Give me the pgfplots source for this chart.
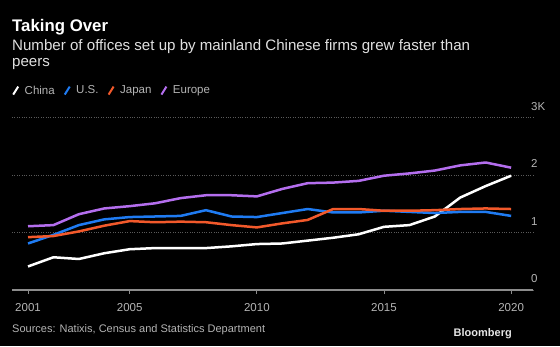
\documentclass[border=0pt]{standalone}
\usepackage{fontspec}
\setmainfont{Liberation Sans}
\usepackage{pgfplots}
\usepackage{pgfplotstable}
\pgfplotsset{compat=1.18}
\definecolor{cblue}{HTML}{1F7BF2}
\definecolor{corange}{HTML}{F2592B}
\definecolor{cpurple}{HTML}{B46EEE}
\definecolor{gridc}{HTML}{5A5A5A}
\definecolor{axisc}{HTML}{8C8C8C}
\definecolor{labc}{HTML}{B4B4B4}
\pgfplotstableread{
year china us japan europe
2001 0.41 0.81 0.92 1.11
2002 0.57 0.96 0.94 1.13
2003 0.54 1.13 1.02 1.32
2004 0.64 1.23 1.12 1.42
2005 0.71 1.27 1.20 1.46
2006 0.73 1.28 1.18 1.51
2007 0.73 1.29 1.19 1.60
2008 0.73 1.39 1.18 1.65
2009 0.76 1.28 1.13 1.65
2010 0.80 1.27 1.09 1.63
2011 0.81 1.34 1.16 1.76
2012 0.86 1.41 1.22 1.86
2013 0.91 1.35 1.41 1.87
2014 0.97 1.35 1.41 1.90
2015 1.10 1.38 1.38 1.99
2016 1.13 1.36 1.38 2.03
2017 1.28 1.34 1.39 2.08
2018 1.61 1.36 1.41 2.17
2019 1.81 1.36 1.42 2.22
2020 1.99 1.29 1.41 2.13
}\datatable
\begin{document}
\begin{tikzpicture}
\fill[black] (0pt,0pt) rectangle (560pt,-346pt);
\useasboundingbox (0pt,0pt) rectangle (560pt,-346pt);
\node[anchor=base west,inner sep=0,text=white,font=\bfseries\fontsize{16.8}{18}\selectfont] at (12pt,-31.5pt) {Taking Over};
\node[anchor=base west,inner sep=0,text=white!88!black,font=\fontsize{15.1}{16}\selectfont] at (12pt,-50.5pt) {Number of offices set up by mainland Chinese firms grew faster than};
\node[anchor=base west,inner sep=0,text=white!88!black,font=\fontsize{15.1}{16}\selectfont] at (12pt,-66.5pt) {peers};
\node[anchor=base west,inner sep=0,text=labc,font=\fontsize{11}{13}\selectfont] at (12pt,-332pt) {Sources: Natixis, Census and Statistics Department};
\node[anchor=base east,inner sep=0,text=white!90!black,font=\bfseries\fontsize{11}{13}\selectfont] at (512pt,-336.5pt) {Bloomberg};
\begin{axis}[
 at={(12pt,-290pt)}, anchor=south west, scale only axis, width=521pt, height=172.3pt,
 xmin=2000.37, xmax=2020.86, ymin=0, ymax=3,
 axis x line*=bottom, axis y line*=right,
 y axis line style={draw=none},
 x axis line style={draw=axisc, line width=1.2pt, -},
 xtick={2001,2005,2010,2015,2020}, xticklabels={2001,2005,2010,2015,2020},
 ytick={0,1,2,3}, yticklabels={0,1,2,3K},
 tick align=outside, major tick length=4pt,
 xtick style={draw=axisc, line width=1pt},
 ytick style={draw=none},
 ymajorgrids, grid style={draw=gridc, dotted, line width=0.8pt},
 xticklabel style={text=labc, font=\fontsize{11.5}{13}\selectfont, inner sep=0, anchor=north, yshift=-9pt},
 yticklabel style={text=labc, font=\fontsize{11.5}{13}\selectfont, inner sep=0, anchor=south west, xshift=-6pt, yshift=7pt},
 legend columns=4,
 legend style={at={(0,1)}, anchor=south west, yshift=20pt, draw=none, fill=none, text=labc, font=\fontsize{11.5}{13}\selectfont, inner sep=0pt,
   /tikz/every odd column/.append style={column sep=3.5pt},
   /tikz/every even column/.append style={column sep=7pt}},
 legend image code/.code={\draw[#1, line width=2pt] (0pt,-4pt) -- (5pt,4pt);},
 every axis plot/.append style={line width=2.5pt, line join=round, no markers},
]
\addplot[white] table[x=year,y=china] {\datatable};
\addlegendentry{China}
\addplot[cblue] table[x=year,y=us] {\datatable};
\addlegendentry{U.S.}
\addplot[corange] table[x=year,y=japan] {\datatable};
\addlegendentry{Japan}
\addplot[cpurple] table[x=year,y=europe] {\datatable};
\addlegendentry{Europe}
\end{axis}
\end{tikzpicture}
\end{document}
